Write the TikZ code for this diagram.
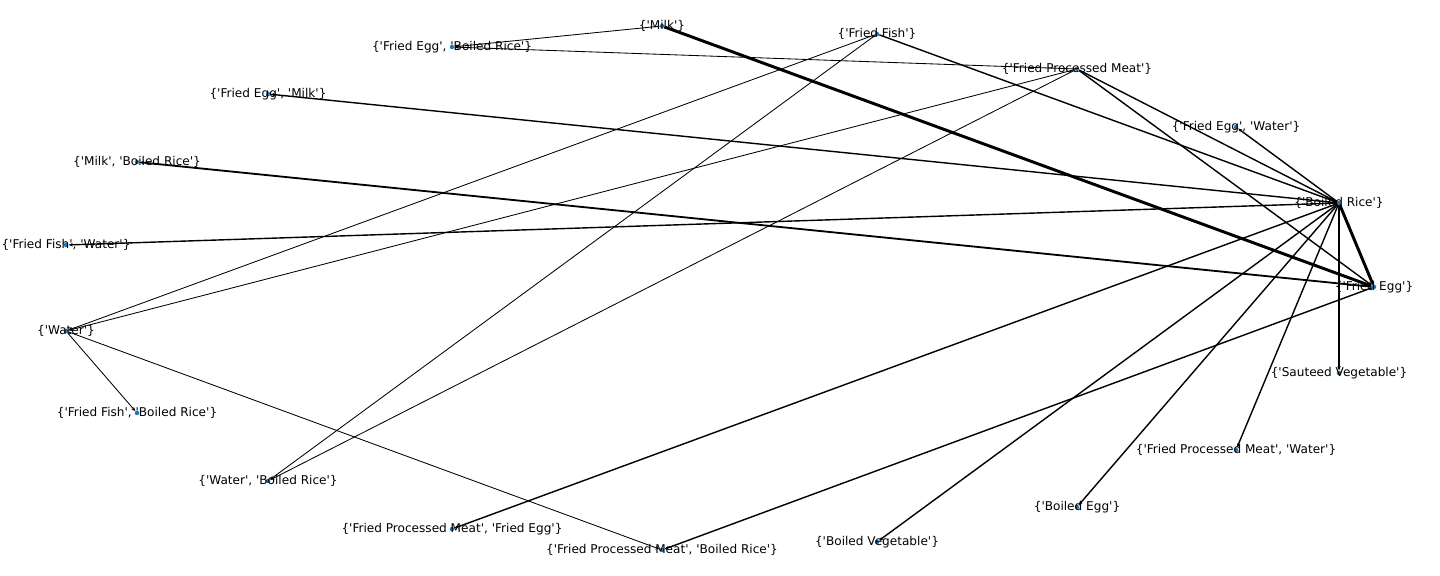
\documentclass[tikz,border=0pt]{standalone}
\usepackage{fontspec}
\newfontfamily\lblfont{DejaVu Sans}
\usetikzlibrary{arrows.meta}
\definecolor{dotblue}{RGB}{31,119,180}

\begin{document}
\begin{tikzpicture}[x=0.025cm, y=-0.025cm,
    >={Stealth[length=3pt,width=2.4pt]},
    vtx/.style={circle, fill=dotblue, inner sep=0pt, minimum size=3.2pt},
    lbl/.style={font=\lblfont\fontsize{8.6}{10}\selectfont, inner sep=0pt},
    thinedge/.style={->, line width=0.6pt},
    midedge/.style={->, line width=1pt},
    heavyedge/.style={->, line width=2.1pt}]
    \useasboundingbox (0,0) rectangle (1440,576);

    % --- nodes (circular layout) ---
    \node[vtx] (milk)   at (662,26)  {};
    \node[vtx] (ffish)  at (877,34)  {};
    \node[vtx] (fe-br)  at (452,47)  {};
    \node[vtx] (fpm)    at (1077,69) {};
    \node[vtx] (fe-milk) at (268,94) {};
    \node[vtx] (fe-w)   at (1236,127) {};
    \node[vtx] (milk-br) at (137,162) {};
    \node[vtx] (brice)  at (1339,203) {};
    \node[vtx] (ff-w)   at (66,245)  {};
    \node[vtx] (fegg)   at (1374,287) {};
    \node[vtx] (water)  at (66,331)  {};
    \node[vtx] (sveg)   at (1339,373) {};
    \node[vtx] (ff-br)  at (137,413) {};
    \node[vtx] (fpm-w)  at (1236,450) {};
    \node[vtx] (w-br)   at (268,481) {};
    \node[vtx] (begg)   at (1077,507) {};
    \node[vtx] (fpm-fe) at (452,529) {};
    \node[vtx] (bveg)   at (877,542) {};
    \node[vtx] (fpm-br) at (662,550) {};

    % --- edges ---
    \draw[heavyedge] (milk) -- (fegg);
    \draw[heavyedge] (brice) -- (fegg);
    \draw[thinedge] (milk) -- (fe-br);
    \draw[thinedge] (fpm) -- (fe-br);
    \draw[midedge] (brice) -- (fe-milk);
    \draw[->, line width=1.3pt] (fegg) -- (milk-br);
    \draw[midedge] (brice) -- (ff-w);
    \draw[thinedge] (ffish) -- (water);
    \draw[thinedge] (fpm) -- (water);
    \draw[thinedge] (water) -- (ff-br);
    \draw[thinedge] (water) -- (fpm-br);
    \draw[thinedge] (ffish) -- (w-br);
    \draw[thinedge] (fpm) -- (w-br);
    \draw[midedge] (ffish) -- (brice);
    \draw[midedge] (fpm) -- (brice);
    \draw[midedge] (fpm) -- (fegg);
    \draw[midedge] (brice) -- (fe-w);
    \draw[midedge] (brice) -- (sveg);
    \draw[midedge] (brice) -- (fpm-w);
    \draw[midedge] (brice) -- (begg);
    \draw[midedge] (brice) -- (bveg);
    \draw[midedge] (brice) -- (fpm-fe);
    \draw[midedge] (fegg) -- (fpm-br);

    % --- labels ---
    \node[lbl] (milk-l)    at (milk)    {\{'Milk'\}};
    \node[lbl] (ffish-l)   at (ffish)   {\{'Fried Fish'\}};
    \node[lbl] (fe-br-l)   at (fe-br)   {\{'Fried Egg', 'Boiled Rice'\}};
    \node[lbl] (fpm-l)     at (fpm)     {\{'Fried Processed Meat'\}};
    \node[lbl] (fe-milk-l) at (fe-milk) {\{'Fried Egg', 'Milk'\}};
    \node[lbl] (fe-w-l)    at (fe-w)    {\{'Fried Egg', 'Water'\}};
    \node[lbl] (milk-br-l) at (milk-br) {\{'Milk', 'Boiled Rice'\}};
    \node[lbl] (brice-l)   at (brice)   {\{'Boiled Rice'\}};
    \node[lbl] (ff-w-l)    at (ff-w)    {\{'Fried Fish', 'Water'\}};
    \node[lbl] (fegg-l)    at (fegg)    {\{'Fried Egg'\}};
    \node[lbl] (water-l)   at (water)   {\{'Water'\}};
    \node[lbl] (sveg-l)    at (sveg)    {\{'Sauteed Vegetable'\}};
    \node[lbl] (ff-br-l)   at (ff-br)   {\{'Fried Fish', 'Boiled Rice'\}};
    \node[lbl] (fpm-w-l)   at (fpm-w)   {\{'Fried Processed Meat', 'Water'\}};
    \node[lbl] (w-br-l)    at (w-br)    {\{'Water', 'Boiled Rice'\}};
    \node[lbl] (begg-l)    at (begg)    {\{'Boiled Egg'\}};
    \node[lbl] (fpm-fe-l)  at (fpm-fe)  {\{'Fried Processed Meat', 'Fried Egg'\}};
    \node[lbl] (bveg-l)    at (bveg)    {\{'Boiled Vegetable'\}};
    \node[lbl] (fpm-br-l)  at (fpm-br)  {\{'Fried Processed Meat', 'Boiled Rice'\}};
\end{tikzpicture}
\end{document}
